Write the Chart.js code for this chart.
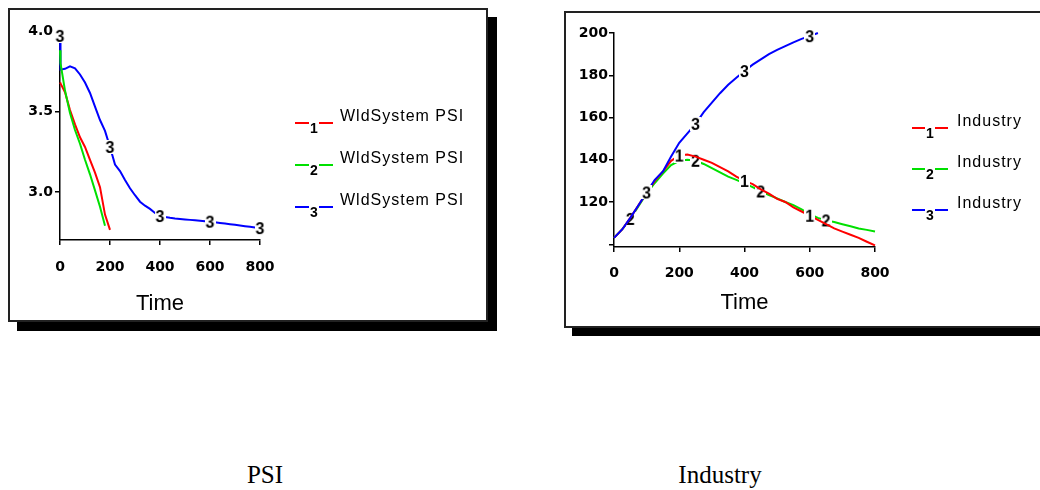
<!DOCTYPE html>
<html><head><meta charset="utf-8">
<script src="https://cdn.jsdelivr.net/npm/chart.js@4.4.1/dist/chart.umd.min.js"></script>
<style>
html,body{margin:0;padding:0;background:#fff;width:1040px;height:490px;overflow:hidden;position:relative}
.box{position:absolute;box-sizing:border-box;border:2px solid #222;background:#fff}
.cv{position:absolute}
.cap{position:absolute;width:160px;text-align:center;font-family:"Liberation Serif","Times New Roman",serif;font-size:25px;color:#000;line-height:1}
</style></head><body>
<div class="box" style="left:8px;top:8px;width:480px;height:314px;box-shadow:9px 9px 0 #000"></div>
<div class="box" style="left:564px;top:11px;width:480px;height:317px;box-shadow:8px 8px 0 #000"></div>
<canvas id="c1" class="cv" width="476" height="310" style="left:10px;top:10px"></canvas>
<canvas id="c2" class="cv" width="474" height="312" style="left:566px;top:13px"></canvas>
<div class="cap" id="cap1" style="left:185px;top:462px"></div>
<div class="cap" id="cap2" style="left:640px;top:462px"></div>
<script>
// ---------- data ----------
const psiTime = [0,2,20,40,60,80,100,120,140,160,180,200,220,240,260,280,300,320,340,360,380,400,420,440,460,480,500,520,540,560,580,600,620,640,660,680,700,720,740,760,780,800];
const psiRun1 = [3.68,3.675,3.62,3.509,3.42,3.34,3.28,3.199,3.12,3.03,2.86,2.765,null,null,null,null,null,null,null,null,null,null,null,null,null,null,null,null,null,null,null,null,null,null,null,null,null,null,null,null,null,null];
const psiRun2 = [3.88,3.80,3.63,3.49,3.385,3.3,3.2,3.11,3.01,2.909,2.79,null,null,null,null,null,null,null,null,null,null,null,null,null,null,null,null,null,null,null,null,null,null,null,null,null,null,null,null,null,null,null];
const psiRun3 = [3.97,3.76,3.765,3.78,3.768,3.73,3.68,3.615,3.53,3.447,3.38,3.28,3.17,3.13,3.075,3.023,2.98,2.94,2.915,2.895,2.87,2.851,2.845,2.84,2.836,2.833,2.83,2.827,2.824,2.821,2.818,2.816,2.812,2.808,2.804,2.80,2.796,2.792,2.788,2.784,2.78,2.776];

const indTime = [0,25,50,75,100,125,150,175,200,225,250,275,300,325,350,375,400,425,450,475,500,525,550,575,600,625,650,675,700,725,750,775,800];
const indRun1 = [103,107,112.5,118.5,124.5,130,134.5,139.5,142,142.5,141.5,140,138.5,136.5,134.5,132,130,128.5,126,124,121.5,120,117.5,115.5,113.5,111.5,109.5,107.5,106,104.5,103,101.2,99.5];
const indRun2 = [103,107,112,118,124,129,133.5,137.5,139.5,140,139.5,138,136,134,132,130.5,128.8,127,125,123.3,121.7,120,118.5,116.5,114.3,112.5,111.3,110.5,109.5,108.5,107.5,106.8,106];
const indRun3 = [103,107,112.5,118.5,124.5,130.5,134.5,141.5,148,152.5,157,162.5,167,171.5,175.5,178.8,182,185,187.5,190,192,193.8,195.6,197.2,198.5,200,null,null,null,null,null,null,null];

const xTicks = [0,200,400,600,800];
const psiYTicks = [3.0,3.5,4.0];
const indYTicks = [100,120,140,160,180,200];
const psiLegend = ['WldSystem PSI','WldSystem PSI','WldSystem PSI'];
const indLegend = ['Industry','Industry','Industry'];
const runDigits = ['1','2','3'];
const psiMarkers = [[],[],[0,200,400,600,800]];
const indMarkers = [[200,400,600],[50,250,450,650],[100,250,400,600]];
const captions = ['PSI','Industry'];
const axisTitle = 'Time';

// ---------- styles ----------
const runColors = ['#ff0000','#00e000','#0000ff'];
const SANS = '"Liberation Sans", Arial, sans-serif';
const TICKFONT = {family:'"DejaVu Sans", sans-serif', size:14, weight:'bold'};

function digitImage(d, size){
  const c = document.createElement('canvas');
  const f = 'bold ' + size + 'px ' + SANS;
  let ctx = c.getContext('2d');
  ctx.font = f;
  const w = Math.ceil(ctx.measureText(d).width) + 2;
  const h = Math.round(size*0.78) + 2;
  c.width = w; c.height = h;
  ctx = c.getContext('2d');
  ctx.fillStyle = '#fff'; ctx.fillRect(0,0,w,h);
  ctx.font = f;
  ctx.fillStyle = '#000'; ctx.textAlign = 'center'; ctx.textBaseline = 'alphabetic';
  ctx.fillText(d, w/2, h-1);
  return c;
}

function legendPlugin(names, cfg){
  return {
    id:'runLegend',
    afterDraw(chart){
      const ctx = chart.ctx, a = chart.chartArea;
      ctx.save();
      names.forEach((name,i)=>{
        const y = cfg.y0 + i*cfg.dy;
        const x1 = a.right + cfg.lx1, x2 = a.right + cfg.lx2;
        ctx.strokeStyle = runColors[i]; ctx.lineWidth = 2;
        ctx.beginPath(); ctx.moveTo(x1,y); ctx.lineTo(x2,y); ctx.stroke();
        const img = digitImage(runDigits[i], 14);
        ctx.drawImage(img, (x1+x2)/2 - img.width/2, y - 2);
        ctx.fillStyle = '#000';
        ctx.font = '16px ' + SANS;
        ctx.letterSpacing = '1px';
        ctx.textBaseline = 'middle'; ctx.textAlign = 'left';
        ctx.fillText(name, a.right + cfg.tx, y - 6);
      });
      ctx.restore();
    }
  };
}

function buildChart(id, p){
  const markImgs = runDigits.map(d => digitImage(d, 16));
  const datasets = p.runs.map((vals,i)=>({
    label: p.legend[i],
    data: p.time.map((t,k)=>({x:t, y:vals[k]})),
    borderColor: runColors[i],
    backgroundColor: runColors[i],
    borderWidth: 2,
    tension: 0,
    fill: false,
    clip: p.clip,
    order: p.order[i],
    pointStyle: markImgs[i],
    pointRadius: ctx => (ctx.raw && p.markers[i].includes(ctx.raw.x) && ctx.raw.y !== null) ? 6 : 0,
    pointHoverRadius: 0
  }));
  return new Chart(document.getElementById(id), {
    type:'line',
    data:{datasets},
    options:{
      responsive:false, animation:false, events:[],
      layout:{padding:p.padding},
      plugins:{legend:{display:false}, tooltip:{enabled:false}},
      scales:{
        x:{type:'linear', min:0, max:800,
          afterBuildTicks: s => { s.ticks = xTicks.map(v=>({value:v})); },
          ticks:{font:TICKFONT, color:'#000', padding:p.xPad, maxRotation:0, autoSkip:false},
          grid:{drawOnChartArea:false, drawTicks:true, tickLength:5, color:'#000', lineWidth:1.5},
          border:{color:'#000', width:1.5},
          title:{display:true, text:axisTitle, color:'#000', font:{family:SANS, size:22}, padding:{top:0,bottom:0}},
          afterFit: s => { s.height = p.xH; }
        },
        y:{type:'linear', min:p.yMin, max:p.yMax,
          afterBuildTicks: s => { s.ticks = p.yTicks.map(v=>({value:v})); },
          ticks:{font:TICKFONT, color:'#000', padding:p.yPad, autoSkip:false, callback:p.yFmt},
          grid:{drawOnChartArea:false, drawTicks:true, tickLength:5, color:'#000', lineWidth:1.5},
          border:{color:'#000', width:1.5},
          afterFit: s => { s.width = p.yW; }
        }
      }
    },
    plugins:[legendPlugin(p.legend, p.leg)]
  });
}

buildChart('c1', {
  time: psiTime, runs:[psiRun1, psiRun2, psiRun3], legend: psiLegend, markers: psiMarkers,
  order:[1,0,2], yMin:2.702, yMax:4.0, yTicks:psiYTicks, yFmt: v => Number(v).toFixed(1),
  padding:{left:2, right:226, top:21, bottom:3}, xH:77, yW:48, xPad:14, yPad:2,
  clip:{left:12, right:12, top:10, bottom:10},
  leg:{y0:113, dy:42, lx1:35, lx2:73, tx:80}
});
buildChart('c2', {
  time: indTime, runs:[indRun1, indRun2, indRun3], legend: indLegend, markers: indMarkers,
  order:[1,2,0], yMin:98.7, yMax:200, yTicks:indYTicks, yFmt: v => v===100 ? '' : String(v),
  padding:{left:2, right:165, top:20, bottom:9}, xH:69, yW:46, xPad:13, yPad:1,
  clip:{left:12, right:12, top:10, bottom:10},
  leg:{y0:115, dy:41, lx1:37, lx2:73, tx:82}
});
document.getElementById('cap1').textContent = captions[0];
document.getElementById('cap2').textContent = captions[1];
</script>
</body></html>
